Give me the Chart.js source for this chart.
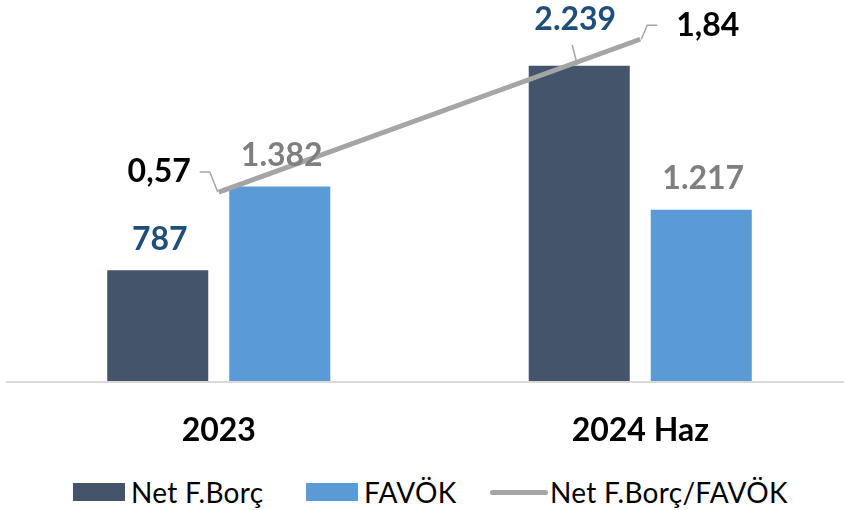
<!DOCTYPE html>
<html lang="tr">
<head>
<meta charset="utf-8">
<script src="https://cdn.jsdelivr.net/npm/chart.js@4.4.1/dist/chart.umd.min.js"></script>
<style>
  html, body { margin: 0; padding: 0; background: #fff; overflow: hidden; width: 844px; height: 510px; }
  #wrap { position: absolute; left: 0; top: 0; width: 852px; height: 460px; }
  .legend { position: absolute; top: 478px; left: 0; width: 844px; height: 30px; font-family: Lato, "Open Sans", sans-serif; font-size: 28px; letter-spacing: 0.3px; color: #000; }
  .legend span { position: absolute; }
  .sw { height: 18px; top: 5px; }
  .ln { height: 5px; top: 12px; border-radius: 3px; }
  .tx { top: -3px; white-space: nowrap; }
</style>
</head>
<body>
<div id="wrap"><canvas id="c" width="852" height="460"></canvas></div>
<div class="legend">
  <span class="sw" style="left:73px;width:52px;background:#44546A"></span>
  <span class="tx" style="left:131px">Net F.Borç</span>
  <span class="sw" style="left:306px;width:52px;background:#5B9BD5"></span>
  <span class="tx" style="left:364px">FAVÖK</span>
  <span class="ln" style="left:490px;width:58px;background:#A5A5A5"></span>
  <span class="tx" style="left:550px">Net F.Borç/FAVÖK</span>
</div>
<script>
const categories = ["2023", "2024 Haz"];
const netBorc = [787, 2239];
const favok = [1382, 1217];
const oran = [0.57, 1.84];

const dark = "#44546A", light = "#5B9BD5", grey = "#A5A5A5";
const font = "Lato, 'Open Sans', sans-serif";

// thousands with a dot, decimals with a comma
const fmtInt = v => String(v).replace(/\B(?=(\d{3})+(?!\d))/g, ".");
const fmtDec = v => v.toFixed(2).replace(".", ",");

const labelsPlugin = {
  id: "labels",
  beforeDatasetsDraw(chart) {
    const { ctx, chartArea } = chart;
    ctx.save();
    ctx.strokeStyle = "#D9D9D9";
    ctx.lineWidth = 2;
    ctx.beginPath();
    ctx.moveTo(chartArea.left - 2, chartArea.bottom + 1);
    ctx.lineTo(chartArea.right, chartArea.bottom + 1);
    ctx.stroke();
    ctx.restore();
  },
  afterDatasetsDraw(chart) {
    const { ctx } = chart;
    const x = chart.scales.x;
    ctx.save();
    ctx.textAlign = "center";
    ctx.textBaseline = "middle";
    ctx.font = "bold 32px " + font;

    // category names under the axis
    ctx.fillStyle = "#000";
    categories.forEach((c, i) => ctx.fillText(c, x.getPixelForValue(i), 431));

    // bar values
    const barSets = [
      { idx: 1, color: "#1F4E79" },
      { idx: 2, color: "#7F7F7F" }
    ];
    barSets.forEach(s => {
      const meta = chart.getDatasetMeta(s.idx);
      const data = chart.data.datasets[s.idx].data;
      meta.data.forEach((bar, j) => {
        let lx = bar.x + 2, ly = bar.y - 31;
        if (s.idx === 1 && j === 1) {
          // moved up clear of the ratio line, with a leader back to the bar
          lx = bar.x - 4; ly = 20;
          ctx.strokeStyle = grey;
          ctx.lineWidth = 1.5;
          ctx.beginPath();
          ctx.moveTo(bar.x - 7, 45);
          ctx.lineTo(bar.x - 2, bar.y - 1);
          ctx.stroke();
        }
        ctx.fillStyle = s.color;
        ctx.fillText(fmtInt(data[j]), lx, ly);
      });
    });

    // ratio labels with leader lines
    const pts = chart.getDatasetMeta(0).data;
    ctx.strokeStyle = grey;
    ctx.lineWidth = 1.5;
    ctx.fillStyle = "#000";
    const p0 = pts[0];
    ctx.beginPath();
    ctx.moveTo(p0.x - 1, p0.y);
    ctx.lineTo(p0.x - 9, p0.y - 20);
    ctx.lineTo(p0.x - 19, p0.y - 20);
    ctx.stroke();
    ctx.textAlign = "right";
    ctx.fillText(fmtDec(oran[0]), p0.x - 28, p0.y - 20);

    const p1 = pts[1];
    ctx.beginPath();
    ctx.moveTo(p1.x + 1, p1.y);
    ctx.lineTo(p1.x + 7, p1.y - 14);
    ctx.lineTo(p1.x + 17, p1.y - 14);
    ctx.stroke();
    ctx.textAlign = "left";
    ctx.fillText(fmtDec(oran[1]), p1.x + 36, p1.y - 14);
    ctx.restore();
  }
};

new Chart(document.getElementById("c"), {
  data: {
    labels: categories,
    datasets: [
      {
        type: "line", label: "Net F.Borç/FAVÖK", data: oran, yAxisID: "y2",
        borderColor: grey, backgroundColor: grey, borderWidth: 5,
        pointRadius: 0, tension: 0, order: 0
      },
      {
        type: "bar", label: "Net F.Borç", data: netBorc, yAxisID: "y",
        backgroundColor: dark, barPercentage: 0.828, categoryPercentage: 0.579, order: 1
      },
      {
        type: "bar", label: "FAVÖK", data: favok, yAxisID: "y",
        backgroundColor: light, barPercentage: 0.828, categoryPercentage: 0.579, order: 1
      }
    ]
  },
  options: {
    responsive: false,
    devicePixelRatio: 1,
    animation: false,
    layout: { padding: { left: 8, right: 1, top: 20, bottom: 79 } },
    scales: {
      x: { type: "category", offset: true, display: false },
      y: { display: false, min: 0, max: 2564 },
      y2: { display: false, min: -1, max: 2 }
    },
    plugins: { legend: { display: false }, tooltip: { enabled: false } }
  },
  plugins: [labelsPlugin]
});
</script>
</body>
</html>
